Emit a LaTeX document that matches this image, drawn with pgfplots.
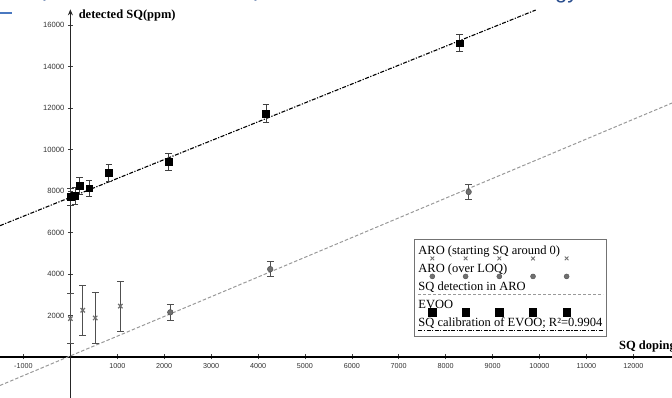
\documentclass[border=0pt]{standalone}
\usepackage{fontspec}
\setmainfont{Liberation Serif}
\newfontfamily\tickfont{Liberation Sans}
\newfontfamily\titlefont{Liberation Sans}
\usepackage{pgfplots}
\pgfplotsset{compat=1.18}
\usetikzlibrary{arrows.meta}
\definecolor{arogray}{HTML}{707070}
\definecolor{arodark}{HTML}{505050}
\definecolor{lineGray}{HTML}{999999}
\definecolor{titleblue}{HTML}{2B4F8F}
\definecolor{dashblue}{HTML}{4A78C0}

\pgfplotstableread{
x y e
0 7720 400
100 7760 400
200 8250 400
400 8130 400
820 8880 400
2090 9400 410
4170 11730 420
8300 15120 400
}\evoo

\pgfplotstableread{
x y e
0 1850 1200
265 2250 1200
530 1880 1220
1065 2450 1200
}\arostart

\pgfplotstableread{
x y e
2130 2150 370
4260 4230 350
8490 7950 370
}\aroloq

\begin{document}
\begin{tikzpicture}
\begin{axis}[
  scale only axis,
  width=672bp, height=388.6bp,
  xmin=-1500, xmax=12825, ymin=-1976, ymax=16750,
  enlargelimits=false,
  axis lines=middle,
  clip=false,
  scaled ticks=false,
  x axis line style={line width=1.3bp, black, -},
  y axis line style={line width=1.3bp, black!85, -{Stealth[length=6bp,width=5bp]}},
  xtick={-1000,1000,2000,3000,4000,5000,6000,7000,8000,9000,10000,11000,12000},
  ytick={2000,4000,6000,8000,10000,12000,14000,16000},
  tick align=center,
  major tick length=5bp,
  tick style={black!75, line width=0.6bp},
  /pgf/number format/assume math mode=true,
  /pgf/number format/1000 sep={},
  xticklabel style={font=\tickfont\fontsize{7.2bp}{8bp}\selectfont, text=black!80, yshift=-1bp},
  yticklabel style={font=\tickfont\fontsize{7.6bp}{8bp}\selectfont, text=black!80},
  legend cell align=left,
  legend style={
    at={(axis cs:7330,5672)}, anchor=north west,
    draw=black!55, line width=0.8bp,
    font=\fontsize{12.5bp}{14bp}\selectfont,
    inner xsep=3.7bp, inner ysep=3.5bp,
    column sep=0pt,
    /tikz/every even column/.style={column sep=0pt},
    nodes={inner sep=0pt, text height=11bp, text depth=7bp},
  },
]

% fitted lines
\addplot[forget plot, lineGray, line width=1bp, dash pattern=on 3.5bp off 2bp] coordinates {(-1500,-1375) (12825,12234)};
\addplot[forget plot, black, line width=1.1bp, dash pattern=on 4bp off 1.5bp on 1.2bp off 1.5bp] coordinates {(-1500,6325) (9920,16717)};

% ARO starting SQ around 0
\addplot[forget plot, only marks, mark=x, mark size=3.1bp, mark options={draw=arogray, line width=1.2bp},
  error bars/.cd, y dir=both, y explicit,
  error bar style={arodark, line width=0.8bp},
  error mark options={rotate=90, mark size=3.3bp, arodark, line width=0.8bp}]
  table[x=x, y=y, y error=e] {\arostart};

% ARO over LOQ
\addplot[forget plot, only marks, mark=*, mark size=2.8bp, mark options={fill=arogray, draw=arodark, line width=0.5bp},
  error bars/.cd, y dir=both, y explicit,
  error bar style={arodark, line width=0.8bp},
  error mark options={rotate=90, mark size=3.3bp, arodark, line width=0.8bp}]
  table[x=x, y=y, y error=e] {\aroloq};

% EVOO
\addplot[forget plot, only marks, mark=square*, mark size=3.4bp, mark options={fill=black, draw=black},
  error bars/.cd, y dir=both, y explicit,
  error bar style={black!75, line width=0.8bp},
  error mark options={rotate=90, mark size=3.3bp, black!75, line width=0.8bp}]
  table[x=x, y=y, y error=e] {\evoo};

% custom legend rows
\addlegendimage{legend image code/.code={
  \path[draw=none] (0,0) -- (0.1bp,0);
  \draw[overlay] plot[only marks, mark=x, mark size=2.6bp, mark options={draw=arogray, line width=0.9bp}]
    coordinates {(14bp,-6.3bp) (47.3bp,-6.3bp) (81bp,-6.3bp) (114.7bp,-6.3bp) (148.3bp,-6.3bp)};
}}
\addlegendentry{ARO (starting SQ around 0)}
\addlegendimage{legend image code/.code={
  \path[draw=none] (0,0) -- (0.1bp,0);
  \draw[overlay] plot[only marks, mark=*, mark size=2.5bp, mark options={fill=arogray, draw=arodark, line width=0.4bp}]
    coordinates {(14bp,-6.3bp) (47.3bp,-6.3bp) (81bp,-6.3bp) (114.7bp,-6.3bp) (148.3bp,-6.3bp)};
}}
\addlegendentry{ARO (over LOQ)}
\addlegendimage{legend image code/.code={
  \path[draw=none] (0,0) -- (0.1bp,0);
  \draw[overlay, lineGray, line width=1bp, dash pattern=on 3bp off 2bp] (0bp,-6.3bp) -- (185bp,-6.3bp);
}}
\addlegendentry{SQ detection in ARO}
\addlegendimage{legend image code/.code={
  \path[draw=none] (0,0) -- (0.1bp,0);
  \draw[overlay] plot[only marks, mark=square*, mark size=3.6bp, mark options={fill=black, draw=black}]
    coordinates {(14bp,-6.3bp) (47.3bp,-6.3bp) (81bp,-6.3bp) (114.7bp,-6.3bp) (148.3bp,-6.3bp)};
}}
\addlegendentry{EVOO}
\addlegendimage{legend image code/.code={
  \path[draw=none] (0,0) -- (0.1bp,0);
  \draw[overlay, black, line width=1.1bp, dash pattern=on 4bp off 1.5bp on 1.2bp off 1.5bp] (0bp,-6.3bp) -- (185bp,-6.3bp);
}}
\addlegendentry{SQ calibration of EVOO; R²=0.9904}

% axis labels
\node[anchor=base west, inner sep=0pt, font=\bfseries\fontsize{12.5bp}{14bp}\selectfont] at (axis cs:175,16289) {detected SQ(ppm)};
\node[anchor=base west, inner sep=0pt, font=\bfseries\fontsize{12.5bp}{14bp}\selectfont] at (axis cs:11695,352) {SQ doping(ppm)};

% remnants of the slide title above the picture
\draw[dashblue, line width=2bp] (axis cs:-1500,16560) -- (axis cs:-1244,16560);
\node[anchor=base west, inner sep=0pt, text=titleblue, font=\titlefont\fontsize{22bp}{24bp}\selectfont] at (axis cs:-608,17350) {p};
\node[anchor=base west, inner sep=0pt, text=titleblue, font=\titlefont\fontsize{22bp}{24bp}\selectfont] at (axis cs:3891,17350) {p};
\node[anchor=base west, inner sep=0pt, text=titleblue, font=\titlefont\fontsize{22bp}{24bp}\selectfont] at (axis cs:10330,17280) {gy};

\coordinate (bbsw) at (axis cs:-1500,-1976);
\coordinate (bbne) at (axis cs:12825,17200);
\end{axis}
\pgfresetboundingbox
\useasboundingbox (bbsw) rectangle (bbne);
\end{tikzpicture}
\end{document}
